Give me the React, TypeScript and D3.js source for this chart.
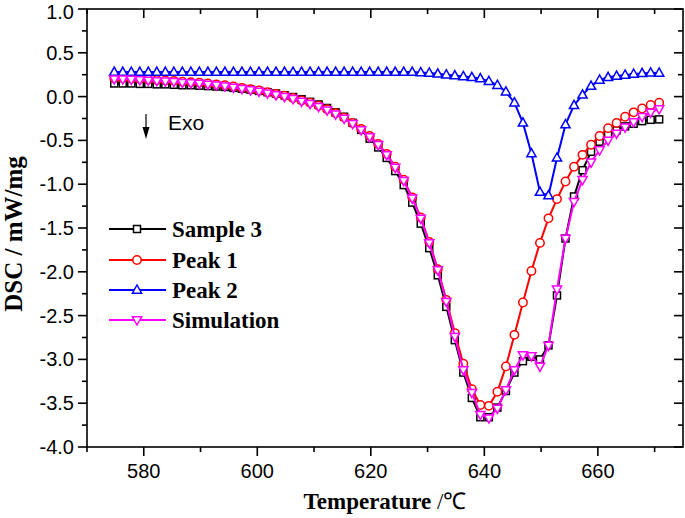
import React from "react";
import * as d3 from "d3";

const temps = [
  574.8, 576.3, 577.8, 579.3, 580.8, 582.3, 583.8, 585.3, 586.8, 588.3,
  589.8, 591.3, 592.8, 594.3, 595.8, 597.3, 598.8, 600.3, 601.8, 603.3,
  604.8, 606.3, 607.8, 609.3, 610.8, 612.3, 613.8, 615.3, 616.8, 618.3,
  619.8, 621.3, 622.8, 624.3, 625.8, 627.3, 628.8, 630.3, 631.8, 633.3,
  634.8, 636.3, 637.8, 639.3, 640.8, 642.3, 643.8, 645.3, 646.8, 648.3,
  649.8, 651.3, 652.8, 654.3, 655.8, 657.3, 658.8, 660.3, 661.8, 663.3,
  664.8, 666.3, 667.8, 669.3, 670.8,
];

const sample3 = [
  0.15, 0.15, 0.15, 0.145, 0.145, 0.14, 0.14, 0.135, 0.13, 0.13,
  0.125, 0.12, 0.115, 0.11, 0.1, 0.09, 0.08, 0.065, 0.05, 0.035,
  0.015, -0.005, -0.03, -0.06, -0.09, -0.13, -0.18, -0.23, -0.3, -0.38,
  -0.48, -0.58, -0.7, -0.85, -1.01, -1.21, -1.45, -1.73, -2.04, -2.4,
  -2.78, -3.15, -3.44, -3.66, -3.66, -3.55, -3.36, -3.15, -3.02, -2.97,
  -3.0, -2.84, -2.27, -1.62, -1.14, -0.84, -0.63, -0.515, -0.43, -0.385,
  -0.34, -0.31, -0.28, -0.265, -0.26,
];

const peak1 = [
  0.21, 0.21, 0.205, 0.2, 0.195, 0.19, 0.185, 0.18, 0.17, 0.165,
  0.16, 0.15, 0.14, 0.13, 0.115, 0.1, 0.085, 0.07, 0.05, 0.03,
  0.01, -0.015, -0.045, -0.07, -0.105, -0.145, -0.19, -0.24, -0.3, -0.37,
  -0.45, -0.54, -0.655, -0.8, -0.95, -1.15, -1.38, -1.66, -1.97, -2.32,
  -2.7, -3.05, -3.34, -3.52, -3.53, -3.37, -3.08, -2.72, -2.35, -1.99,
  -1.67, -1.39, -1.17, -0.97, -0.8, -0.665, -0.55, -0.45, -0.36, -0.3,
  -0.23, -0.18, -0.135, -0.095, -0.07,
];

const peak2 = [
  0.28, 0.28, 0.28, 0.28, 0.28, 0.28, 0.28, 0.28, 0.28, 0.28,
  0.28, 0.28, 0.28, 0.28, 0.28, 0.28, 0.28, 0.28, 0.28, 0.28,
  0.28, 0.28, 0.28, 0.28, 0.28, 0.28, 0.28, 0.28, 0.28, 0.28,
  0.28, 0.28, 0.28, 0.28, 0.28, 0.28, 0.275, 0.27, 0.26, 0.25,
  0.24, 0.23, 0.22, 0.205, 0.175, 0.13, 0.055, -0.07, -0.3, -0.65,
  -1.09, -1.13, -0.7, -0.32, -0.1, 0.02, 0.12, 0.19, 0.22, 0.235,
  0.247, 0.258, 0.265, 0.272, 0.27,
];

const simulation = [
  0.2, 0.2, 0.195, 0.19, 0.185, 0.18, 0.175, 0.17, 0.16, 0.155,
  0.15, 0.14, 0.13, 0.12, 0.105, 0.09, 0.075, 0.06, 0.04, 0.02,
  0.0, -0.025, -0.055, -0.08, -0.115, -0.155, -0.2, -0.25, -0.31, -0.38,
  -0.46, -0.55, -0.665, -0.81, -0.96, -1.16, -1.39, -1.67, -1.98, -2.34,
  -2.74, -3.12, -3.38, -3.63, -3.67, -3.56, -3.35, -3.12, -2.95, -2.96,
  -3.08, -2.84, -2.2, -1.62, -1.2, -0.95, -0.75, -0.61, -0.5, -0.42,
  -0.35, -0.29, -0.23, -0.18, -0.14,
];

const seriesNames = ["Sample 3", "Peak 1", "Peak 2", "Simulation"];
const seriesColors = ["#000000", "#ff0000", "#0000ff", "#ff00ff"];
const seriesMarkers = ["square", "circle", "triangleUp", "triangleDown"];
const seriesValues = [sample3, peak1, peak2, simulation];

const xMajorTicks = [580, 600, 620, 640, 660];
const xMinorTicks = [570, 590, 610, 630, 650, 670];
const yMajorTicks = [-4, -3.5, -3, -2.5, -2, -1.5, -1, -0.5, 0, 0.5, 1];
const yMinorTicks = [-3.75, -3.25, -2.75, -2.25, -1.75, -1.25, -0.75, -0.25, 0.25, 0.75];

const W = 685;
const H = 518;
const L = 87, R = 683, T = 9, B = 447;

function Marker({ type, x, y, color }: { type: string; x: number; y: number; color: string }) {
  const sw = 1.5;
  if (type === "square") {
    return <rect x={x - 3.5} y={y - 3.5} width={7} height={7} fill="#fff" stroke={color} strokeWidth={sw} />;
  }
  if (type === "circle") {
    return <circle cx={x} cy={y} r={4.2} fill="#fff" stroke={color} strokeWidth={sw} />;
  }
  if (type === "triangleUp") {
    const p = `${x},${y - 5} ${x + 4.6},${y + 3.2} ${x - 4.6},${y + 3.2}`;
    return <polygon points={p} fill="#fff" stroke={color} strokeWidth={sw} />;
  }
  const p = `${x},${y + 5} ${x + 4.6},${y - 3.2} ${x - 4.6},${y - 3.2}`;
  return <polygon points={p} fill="#fff" stroke={color} strokeWidth={sw} />;
}

export default function App() {
  const x = d3.scaleLinear().domain([570, 675]).range([L, R]);
  const y = d3.scaleLinear().domain([-4, 1]).range([B, T]);
  const line = d3
    .line<number>()
    .x((_, i) => x(temps[i]))
    .y((d) => y(d));

  const sans = "'Liberation Sans', Arial, sans-serif";
  const serif = "'Liberation Serif', 'Times New Roman', serif";
  const maj = 9, mnr = 5;

  const legendRows = [229, 260, 290, 320];

  return (
    <svg width={W} height={H} style={{ position: "absolute", left: 0, top: 0, background: "#fff" }}>
      <rect x={0} y={0} width={W} height={H} fill="#fff" />
      {seriesValues.map((vals, s) => (
        <g key={s}>
          <path d={line(vals) || ""} fill="none" stroke={seriesColors[s]} strokeWidth={2} />
          {vals.map((v, i) => (
            <Marker key={i} type={seriesMarkers[s]} x={x(temps[i])} y={y(v)} color={seriesColors[s]} />
          ))}
        </g>
      ))}
      <rect x={L} y={T} width={R - L} height={B - T} fill="none" stroke="#000" strokeWidth={1.6} />
      {xMajorTicks.map((t) => (
        <g key={"xm" + t}>
          <line x1={x(t)} x2={x(t)} y1={B} y2={B + maj} stroke="#000" strokeWidth={1.6} />
          <line x1={x(t)} x2={x(t)} y1={T} y2={T + maj} stroke="#000" strokeWidth={1.6} />
          <text x={x(t)} y={B + 31} textAnchor="middle" fontFamily={sans} fontSize={20}>
            {t}
          </text>
        </g>
      ))}
      {xMinorTicks.map((t) => (
        <g key={"xn" + t}>
          <line x1={x(t)} x2={x(t)} y1={B} y2={B + mnr} stroke="#000" strokeWidth={1.6} />
          <line x1={x(t)} x2={x(t)} y1={T} y2={T + mnr} stroke="#000" strokeWidth={1.6} />
        </g>
      ))}
      {yMajorTicks.map((t) => (
        <g key={"ym" + t}>
          <line x1={L - maj} x2={L} y1={y(t)} y2={y(t)} stroke="#000" strokeWidth={1.6} />
          <line x1={R - maj} x2={R} y1={y(t)} y2={y(t)} stroke="#000" strokeWidth={1.6} />
          <text x={L - 13} y={Math.max(y(t) + 7, 19)} textAnchor="end" fontFamily={sans} fontSize={20}>
            {t.toFixed(1)}
          </text>
        </g>
      ))}
      {yMinorTicks.map((t) => (
        <g key={"yn" + t}>
          <line x1={L - mnr} x2={L} y1={y(t)} y2={y(t)} stroke="#000" strokeWidth={1.6} />
          <line x1={R - mnr} x2={R} y1={y(t)} y2={y(t)} stroke="#000" strokeWidth={1.6} />
        </g>
      ))}
      <text x={(L + R) / 2} y={509} textAnchor="middle" fontFamily={serif} fontSize={23}>
        <tspan fontWeight="bold">Temperature</tspan>
        <tspan> /℃</tspan>
      </text>
      <text
        transform={`translate(22, ${(T + B) / 2 + 6}) rotate(-90)`}
        textAnchor="middle"
        fontFamily={serif}
        fontSize={25}
        fontWeight="bold"
      >
        DSC / mW/mg
      </text>
      <line x1={146} x2={146} y1={114} y2={134} stroke="#000" strokeWidth={1.2} />
      <path d="M142.5,127 L146,139 L149.5,127 Z" fill="#000" />
      <text x={168} y={130} fontFamily={sans} fontSize={21}>
        Exo
      </text>
      {seriesNames.map((n, s) => (
        <g key={"lg" + s}>
          <line x1={109} x2={166} y1={legendRows[s]} y2={legendRows[s]} stroke={seriesColors[s]} strokeWidth={2} />
          <Marker type={seriesMarkers[s]} x={137} y={legendRows[s]} color={seriesColors[s]} />
          <text x={172} y={legendRows[s] + 8} fontFamily={serif} fontSize={23} fontWeight="bold">
            {n}
          </text>
        </g>
      ))}
    </svg>
  );
}
